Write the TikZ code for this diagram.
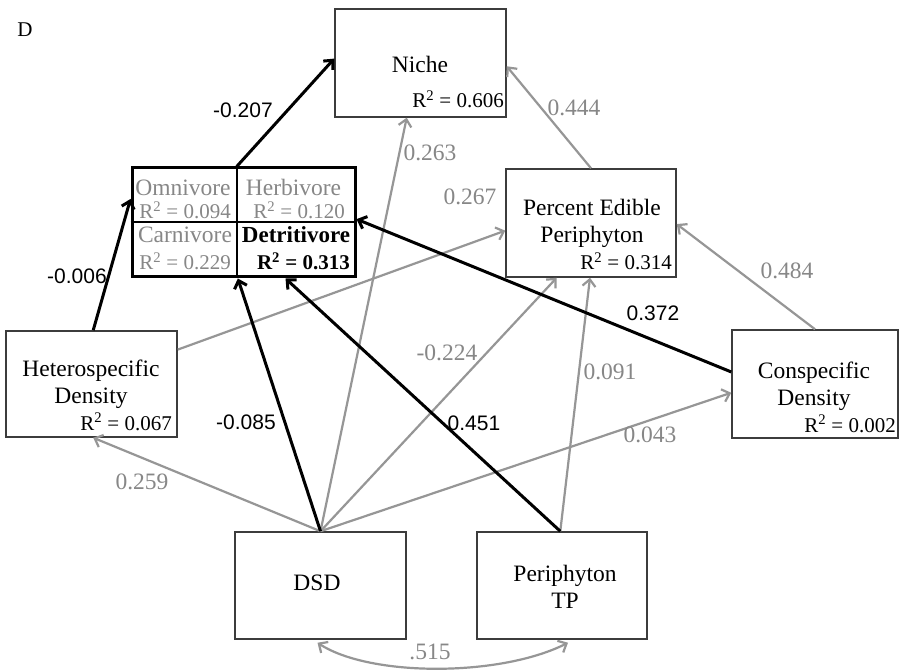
\documentclass[tikz,border=0pt]{standalone}
\usepackage{fontspec}
\setmainfont{Liberation Serif}
\newfontfamily\arialf{Liberation Sans}
\usetikzlibrary{arrows.meta,calc}
\definecolor{garrow}{RGB}{150,150,150}
\definecolor{gtext}{RGB}{135,135,135}
\definecolor{boxline}{RGB}{60,60,60}
\newcommand{\rsqv}[1]{R\textsuperscript{2} = #1}
\tikzset{
 box/.style={draw=boxline, line width=1.5pt, inner sep=0pt, fill=white},
 txt/.style={font=\fontsize{23.5}{27}\selectfont, inner sep=0pt, align=center},
 rsq/.style={font=\fontsize{21}{24}\selectfont, inner sep=0pt, anchor=base east},
 tipb/.tip={Straight Barb[length=7pt,width=13pt]},
 garr/.style={draw=garrow, line width=2.2pt, -tipb},
 barr/.style={draw=black, line width=3pt, -tipb},
 glab/.style={font=\fontsize{23.5}{27}\selectfont, text=gtext, inner sep=0pt},
 blab/.style={font=\arialf\fontsize{21}{25}\selectfont, inner sep=0pt},
}
\begin{document}
\begin{tikzpicture}[x=1pt,y=-1pt]
\useasboundingbox (0,0) rectangle (900,671);
\fill[white] (0,0) rectangle (900,671);

% boxes
\node[box, minimum width=171pt, minimum height=108pt] (niche) at (420.5,63) {};
\node[box, minimum width=170pt, minimum height=108pt] (pep) at (591,223) {};
\node[box, minimum width=171pt, minimum height=106pt] (hetero) at (91.5,384) {};
\node[box, minimum width=166pt, minimum height=108pt] (consp) at (815,384) {};
\node[box, minimum width=171pt, minimum height=107pt] (dsd) at (320.5,585.5) {};
\node[box, minimum width=170pt, minimum height=107pt] (tp) at (562,585.5) {};
\node[box, draw=black, line width=3pt, minimum width=223pt, minimum height=109pt] (guild) at (243.5,222.5) {};
\draw[line width=2pt] ($(guild.north west)!0.47!(guild.north east)$) -- ($(guild.south west)!0.47!(guild.south east)$);
\draw[line width=2pt] (guild.west) -- (guild.east);

% texts
\node[txt, anchor=base] (nichet) at (420,73) {Niche};
\node[rsq] (nicher) at (504,108) {\rsqv{0.606}};
\node[txt, anchor=north] (pept) at (592,199) {Percent Edible\\Periphyton};
\node[rsq] (pepr) at (672,270) {\rsqv{0.314}};
\node[txt, anchor=north] (hetet) at (91,360) {Heterospecific\\Density};
\node[rsq] (heter) at (172,430) {\rsqv{0.067}};
\node[txt, anchor=north] (conspt) at (814,362) {Conspecific\\Density};
\node[rsq] (conspr) at (896,432) {\rsqv{0.002}};
\node[txt, anchor=base] (dsdt) at (317,590) {DSD};
\node[txt, anchor=north] (tpt) at (565,565) {Periphyton\\TP};

\node[txt, anchor=base, text=gtext] (omni) at (183,196) {Omnivore};
\node[rsq, text=gtext] (omnir) at (231,219) {\rsqv{0.094}};
\node[txt, anchor=base, text=gtext] (herb) at (293.5,196) {Herbivore};
\node[rsq, text=gtext] (herbr) at (345,219) {\rsqv{0.120}};
\node[txt, anchor=base, text=gtext] (carn) at (185,243) {Carnivore};
\node[rsq, text=gtext] (carnr) at (231,270) {\rsqv{0.229}};
\node[txt, anchor=base, font=\fontsize{23}{27}\selectfont\bfseries] (detr) at (296,243) {Detritivore};
\node[rsq, font=\fontsize{21}{24}\selectfont\bfseries] (detrr) at (350,270) {\rsqv{0.313}};

\node[font=\fontsize{21}{25}\selectfont, inner sep=0pt] (dlab) at (25,30) {D};

% gray arrows
\draw[garr] ($(hetero.north east)!0.18!(hetero.south east)$) -- ($(pep.north west)!0.57!(pep.south west)$);
\draw[garr] (dsd.north) -- ($(niche.south west)!0.42!(niche.south east)$);
\draw[garr] (dsd.north) -- ($(pep.south west)!0.30!(pep.south east)$);
\draw[garr] ($(tp.north west)!0.49!(tp.north east)$) -- ($(pep.south west)!0.494!(pep.south east)$);
\draw[garr] (dsd.north) -- ($(consp.north west)!0.58!(consp.south west)$);
\draw[garr] (dsd.north) -- ($(hetero.south west)!0.51!(hetero.south east)$);
\draw[garr] (consp.north) -- ($(pep.north east)!0.51!(pep.south east)$);
\draw[garr] (pep.north) -- ($(niche.north east)!0.53!(niche.south east)$);
\draw[garr, tipb-tipb] ($(dsd.south)+(-3,3)$) .. controls (370,677) and (500,677) .. ($(tp.south)+(6,3)$);

% black arrows
\draw[barr] ($(guild.north west)!0.47!(guild.north east)$) -- ($(niche.north west)!0.46!(niche.south west)$);
\draw[barr] ($(hetero.north west)!0.51!(hetero.north east)$) -- ($(guild.north west)!0.29!(guild.south west)$);
\draw[barr] (dsd.north) -- ($(guild.south west)!0.475!(guild.south east)$);
\draw[barr] ($(tp.north west)!0.49!(tp.north east)$) -- ($(guild.south west)!0.686!(guild.south east)$);
\draw[barr] ($(consp.north west)!0.39!(consp.south west)$) -- ($(guild.north east)!0.47!(guild.south east)$);

% labels
\node[blab] (l207) at (243,110) {-0.207};
\node[blab] (l006) at (77,276) {-0.006};
\node[glab] (l267) at (470,197) {0.267};
\node[glab] (l263) at (430,153) {0.263};
\node[glab] (l444) at (574,108) {0.444};
\node[glab] (l484) at (787,271) {0.484};
\node[blab] (l372) at (653,313) {0.372};
\node[glab] (l224) at (447,353) {-0.224};
\node[glab] (l091) at (610,372) {0.091};
\node[blab] (l451) at (474,423) {0.451};
\node[glab] (l043) at (650,435) {0.043};
\node[blab] (l085) at (246,422) {-0.085};
\node[glab] (l259) at (142,482) {0.259};
\node[glab] (l515) at (430,652) {.515};
\end{tikzpicture}
\end{document}
